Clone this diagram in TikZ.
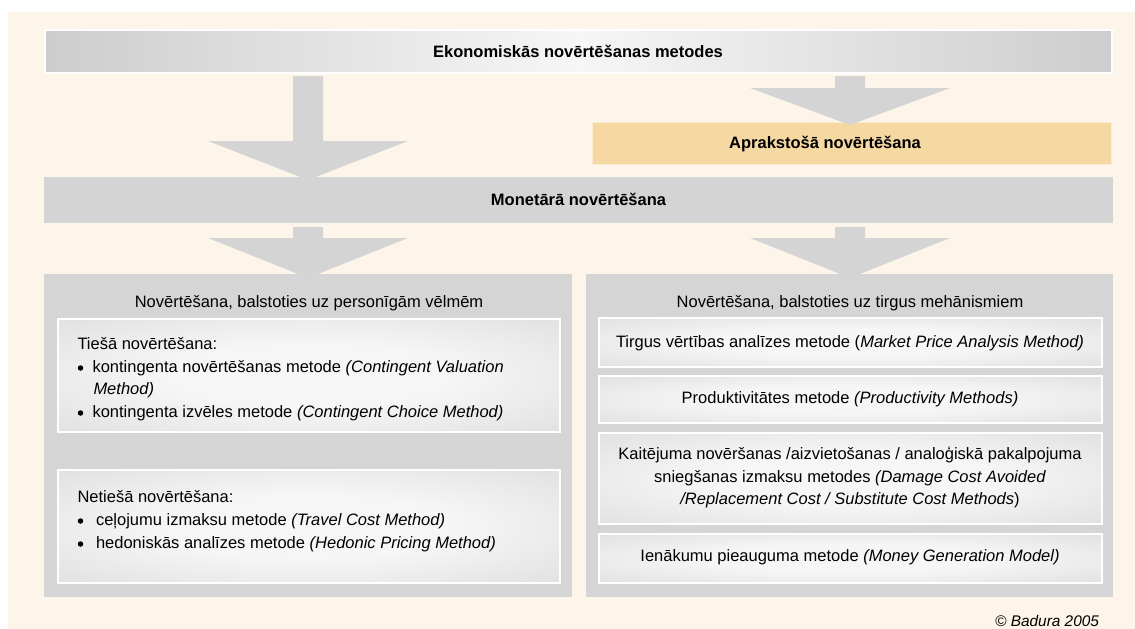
\documentclass[tikz,border=0pt]{standalone}
\usepackage{fontspec}
\setmainfont{Liberation Sans}
\usetikzlibrary{calc}
\definecolor{cream}{RGB}{253,245,234}
\definecolor{barg}{RGB}{212,212,212}
\definecolor{panelg}{RGB}{213,213,213}
\definecolor{aprc}{RGB}{246,216,163}
\definecolor{edgeg}{RGB}{205,205,205}
\definecolor{midg}{RGB}{246,246,246}
\pgfdeclareradialshading{softbox}{\pgfpointorigin}{color(0bp)=(midg); color(14bp)=(midg); color(56bp)=(edgeg); color(75bp)=(edgeg)}
\newcommand\fs{\fontsize{16.5pt}{22.5pt}\selectfont}
\newcommand\barrow[3]{%
  \fill[barg] let \p1=(#1), \p2=(#2) in
    (\x1-15pt,\y1) -- (\x1+15pt,\y1) -- (\x1+15pt,\y2+#3) -- (\x1+100pt,\y2+#3)
    -- (\x2,\y2) -- (\x1-100pt,\y2+#3) -- (\x1-15pt,\y2+#3) -- cycle;}
\tikzset{
  box/.style={inner sep=0pt, outer sep=0pt, anchor=north west},
  graybar/.style={box, fill=barg},
  topbar/.style={box, left color=edgeg, right color=edgeg, middle color=midg, draw=white, line width=1.5pt},
  aprbar/.style={box, fill=aprc, draw=white!50!aprc, line width=1pt},
  panelbox/.style={box, fill=panelg},
  inbox/.style={box, shading=softbox, draw=white, line width=2pt},
  txt/.style={inner sep=0pt, outer sep=0pt, font=\fs, anchor=base},
  ltxt/.style={txt, anchor=base west},
  btxt/.style={txt, font=\fs\bfseries},
  bul/.style={circle, fill=black, inner sep=0pt, minimum size=5.5pt},
}
\begin{document}
\begin{tikzpicture}[x=1pt,y=-1pt]
\useasboundingbox (0,0) rectangle (1135,629);
\fill[cream] (8,12) rectangle (1135,629);

% bars
\node[topbar, minimum width=1067pt, minimum height=43pt] (top) at (45,30) {};
\node[btxt] (topt) at (578,57) {Ekonomiskās novērtēšanas metodes};
\node[aprbar, minimum width=519pt, minimum height=42pt] (apr) at (592,122) {};
\node[btxt] (aprt) at (825,148.5) {Aprakstošā novērtēšana};
\node[graybar, minimum width=1069pt, minimum height=46pt] (mon) at (44,177) {};
\node[btxt] (mont) at (578.5,205.5) {Monetārā novērtēšana};

% panels
\node[panelbox, minimum width=528pt, minimum height=323pt] (lp) at (44,274) {};
\node[panelbox, minimum width=527pt, minimum height=323pt] (rp) at (586,274) {};

% arrows
\coordinate (lx) at (308,0);
\coordinate (rx) at (850,0);
\barrow{$(lx |- top.south)+(0,3)$}{$(lx |- mon.north)+(0,3)$}{39pt}
\barrow{$(rx |- top.south)+(0,3)$}{$(rx |- apr.north)+(0,3)$}{37pt}
\barrow{$(lx |- mon.south)+(0,4)$}{$(lx |- lp.north)+(0,4)$}{40pt}
\barrow{$(rx |- mon.south)+(0,4)$}{$(rx |- rp.north)+(0,4)$}{40pt}

% left panel
\node[txt] (lpt) at (309,307.5) {Novērtēšana, balstoties uz personīgām vēlmēm};
\node[inbox, minimum width=502.5pt, minimum height=113pt] (l1) at (57.5,319) {};
\node[ltxt] (l1a) at (77.5,349.5) {Tiešā novērtēšana:};
\node[bul] (b1) at (80.5,368) {};
\node[ltxt] (l1b) at (92.5,372) {kontingenta novērtēšanas metode \textit{(Contingent Valuation}};
\node[ltxt] (l1c) at (93.5,394.5) {\textit{Method)}};
\node[bul] (b2) at (80.5,413) {};
\node[ltxt] (l1d) at (92.5,417) {kontingenta izvēles metode \textit{(Contingent Choice Method)}};

\node[inbox, minimum width=502.5pt, minimum height=113pt] (l2) at (57.5,470) {};
\node[ltxt] (l2a) at (77.5,502) {Netiešā novērtēšana:};
\node[bul] (b3) at (80.5,521) {};
\node[ltxt] (l2b) at (96,525) {ceļojumu izmaksu metode \textit{(Travel Cost Method)}};
\node[bul] (b4) at (80.5,544) {};
\node[ltxt] (l2c) at (96,548) {hedoniskās analīzes metode \textit{(Hedonic Pricing Method)}};

% right panel
\node[txt] (rpt) at (850,307.5) {Novērtēšana, balstoties uz tirgus mehānismiem};
\node[inbox, minimum width=503.5pt, minimum height=49pt] (ra) at (598.5,318) {};
\node[txt] (rat) at (850,347.5) {Tirgus vērtības analīzes metode (\textit{Market Price Analysis Method)}};
\node[inbox, minimum width=503.5pt, minimum height=47pt] (rb) at (598.5,376) {};
\node[txt] (rbt) at (850,403.5) {Produktivitātes metode \textit{(Productivity Methods)}};
\node[inbox, minimum width=503.5pt, minimum height=91pt] (rc) at (598.5,433) {};
\node[txt, align=center] (rct) at (850,504.5) {Kaitējuma novēršanas /aizvietošanas / analoģiskā pakalpojuma\\
sniegšanas izmaksu metodes \textit{(Damage Cost Avoided}\\
\textit{/Replacement Cost / Substitute Cost Methods})};
\node[inbox, minimum width=503.5pt, minimum height=49pt] (rd) at (598.5,534) {};
\node[txt] (rdt) at (850,561.5) {Ienākumu pieauguma metode \textit{(Money Generation Model)}};

\node[txt, anchor=base east, font=\fontsize{15.4pt}{18pt}\selectfont\itshape] (copy) at (1099,626) {© Badura 2005};
\end{tikzpicture}
\end{document}
